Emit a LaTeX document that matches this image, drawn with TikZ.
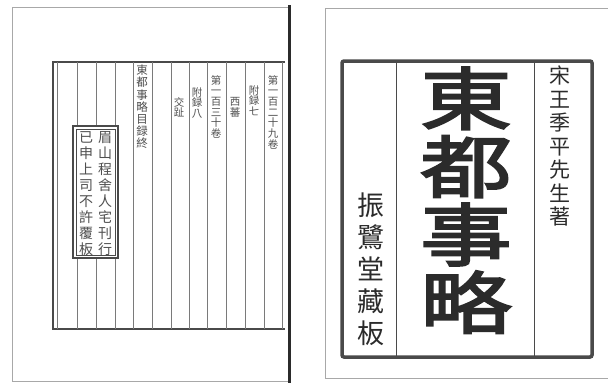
\documentclass[tikz,border=0pt]{standalone}
\usepackage{fontspec}
\newfontfamily\cjk{Noto Sans CJK TC}
\newfontfamily\cjkbold[FakeBold=3, FakeStretch=1.35]{Noto Sans CJK TC}
\definecolor{ink}{HTML}{2B2B2B}
\definecolor{frame}{HTML}{4A4A4A}
\definecolor{rule}{HTML}{7A7A7A}
\definecolor{edge}{HTML}{A8A8A8}
\definecolor{faint}{HTML}{4F4F4F}

\begin{document}
\begin{tikzpicture}[x=1pt, y=-1pt,
		vcol/.style={inner sep=0pt, align=center, anchor=north, text=faint}]
			%%%%% START %%%%%
			\useasboundingbox (0, 0) rectangle (608, 384);
			\fill[white] (0, 0) rectangle (608, 384);
			
			% left page
			\draw[line width=0.8pt, color=edge] (289, 7) -- (12, 7) -- (12, 381) -- (289, 381);
			\draw[line width=3pt, color=ink] (289, 5) -- (289, 383);
			\draw[line width=1.6pt, color=frame] (285, 62) -- (53, 62) -- (53, 329) -- (285, 329);
			\draw[line width=0.6pt, color=rule] (57, 62) -- (57, 329);
			\foreach \x in {77, 96, 115, 133, 152, 171, 189, 207, 226, 245, 264, 282}
				\draw[line width=0.7pt, color=rule] (\x, 62) -- (\x, 329);
			
			\draw[line width=1.2pt, color=frame, fill=white] (73, 126) rectangle (118, 258);
			\draw[line width=0.6pt, color=frame] (76, 129) rectangle (115, 255);
			
			\node[vcol, font=\cjk\fontsize{10.5}{10.7}\selectfont] (vol129) at (273, 75) {第\\一\\百\\二\\十\\九\\卷};
			\node[vcol, font=\cjk\fontsize{10.5}{10.7}\selectfont] (app7) at (254, 85) {附\\録\\七};
			\node[vcol, font=\cjk\fontsize{10.5}{10.7}\selectfont] (xifan) at (235, 97) {西\\蕃};
			\node[vcol, font=\cjk\fontsize{10.5}{10.7}\selectfont] (vol130) at (216, 75) {第\\一\\百\\三\\十\\卷};
			\node[vcol, font=\cjk\fontsize{10.5}{10.7}\selectfont] (app8) at (197, 87) {附\\録\\八};
			\node[vcol, font=\cjk\fontsize{10.5}{10.7}\selectfont] (jiaozhi) at (179, 97) {交\\趾};
			\node[vcol, font=\cjk\fontsize{11.5}{12.1}\selectfont] (tocend) at (142, 65) {東\\都\\事\\略\\目\\録\\終};
			
			\node[vcol, font=\cjk\fontsize{14}{16}\selectfont] (printer) at (105, 131) {眉\\山\\程\\舍\\人\\宅\\刊\\行};
			\node[vcol, font=\cjk\fontsize{14}{16}\selectfont] (notice) at (86, 131) {已\\申\\上\\司\\不\\許\\覆\\板};
			
			% right page
			\draw[line width=0.6pt, color=edge] (608, 8) -- (325, 8) -- (325, 378) -- (608, 378);
			\draw[line width=3.5pt, color=frame, rounded corners=2pt] (342, 61) rectangle (592, 357);
			\draw[line width=1pt, color=frame] (396, 61) -- (396, 357);
			\draw[line width=1pt, color=frame] (534, 61) -- (534, 357);
			
			\node[vcol, text=ink, font=\cjkbold\fontsize{68}{68}\selectfont] (title) at (466, 67) {東\\都\\事\\略};
			\node[vcol, text=ink, font=\cjk\fontsize{21}{23.5}\selectfont] (author) at (560, 66) {宋\\王\\季\\平\\先\\生\\著};
			\node[vcol, text=ink, font=\cjk\fontsize{27}{32}\selectfont] (hall) at (371, 193) {振\\鷺\\堂\\藏\\板};
			
			%%%%% END %%%%%
		\end{tikzpicture}
\end{document}
